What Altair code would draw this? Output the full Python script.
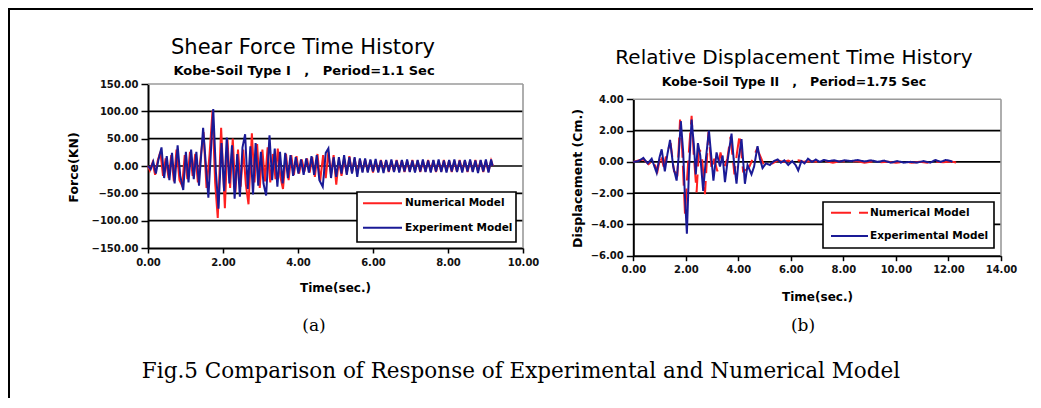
import altair as alt
import pandas as pd

# ---------------- data ----------------
# Panel (a): Shear force time history  (time s, force kN)
a_names = ["Numerical Model", "Experiment Model"]
a_num = [(0.00,0),(0.05,-8),(0.12,6),(0.19,-16),(0.26,10),(0.33,26),(0.40,-18),(0.47,14),(0.55,-22),(0.62,20),
         (0.69,-28),(0.76,30),(0.84,-26),(0.91,-36),(0.98,20),(1.05,-24),(1.12,26),(1.19,-18),(1.26,22),(1.33,-30),
         (1.41,20),(1.48,62),(1.56,-40),(1.64,20),(1.72,101),(1.79,-30),(1.86,-95),(1.95,70),(2.05,-77),(2.12,48),
         (2.19,-40),(2.26,50),(2.33,-48),(2.40,30),(2.47,-38),(2.54,30),(2.61,-34),(2.68,-70),(2.77,60),(2.84,-30),
         (2.91,40),(2.98,-40),(3.05,30),(3.12,-28),(3.19,34),(3.26,-30),(3.33,22),(3.40,-24),(3.46,32),(3.53,-20),
         (3.60,-42),(3.68,22),(3.75,-26),(3.82,20),(3.89,-16),(3.96,18),(4.03,-14),(4.10,12),(4.17,-10),(4.24,14),
         (4.31,-12),(4.38,16),(4.45,-20),(4.52,22),(4.59,-28),(4.67,20),(4.74,-22),(4.81,26),(4.88,-16),(4.95,20),
         (5.02,-34),(5.09,12),(5.16,-18),(5.23,14),(5.30,-14),(5.37,18),(5.44,-12),(5.51,14),(5.58,-14),(5.65,12),
         (5.72,-10),(5.79,12),(5.86,-10),(5.93,10),(6.00,-12),(6.07,9),(6.14,-10),(6.21,11),(6.28,-9),(6.35,10),
         (6.42,-11),(6.49,9),(6.56,-10),(6.63,11),(6.70,-9),(6.77,10),(6.84,-11),(6.91,9),(6.98,-10),(7.05,11),
         (7.12,-9),(7.19,10),(7.26,-11),(7.33,9),(7.40,-10),(7.47,11),(7.54,-9),(7.61,10),(7.68,-11),(7.75,9),
         (7.82,-10),(7.89,11),(7.96,-9),(8.03,10),(8.10,-11),(8.17,9),(8.24,-10),(8.31,11),(8.38,-9),(8.45,10),
         (8.52,-11),(8.59,9),(8.66,-10),(8.73,11),(8.80,-9),(8.87,10),(8.94,-11),(9.01,9),(9.08,-10),(9.15,10),(9.20,0)]
a_exp = [(0.00,0),(0.07,-6),(0.14,8),(0.21,-14),(0.28,12),(0.36,34),(0.43,-22),(0.50,18),(0.57,-26),(0.64,24),
         (0.71,-32),(0.79,38),(0.86,-18),(0.94,-44),(1.01,26),(1.08,-30),(1.15,30),(1.22,-24),(1.29,26),(1.36,-36),
         (1.47,70),(1.54,5),(1.61,-58),(1.74,104),(1.81,-10),(1.88,-78),(1.96,42),(2.03,-46),(2.10,52),(2.17,-32),
         (2.24,38),(2.31,-60),(2.38,22),(2.45,-56),(2.52,34),(2.59,58),(2.66,-42),(2.73,36),(2.80,-52),(2.87,42),
         (2.94,-36),(3.01,26),(3.08,-32),(3.15,-54),(3.24,56),(3.31,-26),(3.38,32),(3.45,-38),(3.52,26),(3.59,-32),
         (3.66,24),(3.73,-22),(3.80,20),(3.87,-18),(3.94,16),(4.01,-14),(4.08,12),(4.15,-16),(4.22,14),(4.29,-12),
         (4.36,18),(4.43,-16),(4.50,20),(4.57,-26),(4.66,-38),(4.74,24),(4.81,32),(4.88,-22),(4.95,16),(5.02,-20),
         (5.09,16),(5.16,-14),(5.23,20),(5.30,-16),(5.37,16),(5.44,-14),(5.51,16),(5.58,-20),(5.65,14),(5.72,-12),
         (5.79,14),(5.86,-12),(5.93,12),(6.00,-10),(6.07,13),(6.14,-12),(6.21,10),(6.28,-13),(6.35,11),(6.42,-10),
         (6.49,12),(6.56,-11),(6.63,10),(6.70,-12),(6.77,11),(6.84,-10),(6.91,12),(6.98,-11),(7.05,10),(7.12,-12),
         (7.19,11),(7.26,-10),(7.33,12),(7.40,-11),(7.47,10),(7.54,-12),(7.61,11),(7.68,-10),(7.75,12),(7.82,-11),
         (7.89,10),(7.96,-12),(8.03,11),(8.10,-10),(8.17,12),(8.24,-11),(8.31,10),(8.38,-12),(8.45,11),(8.52,-10),
         (8.59,12),(8.66,-11),(8.73,10),(8.80,-13),(8.87,11),(8.94,-10),(9.01,12),(9.08,-12),(9.15,12),(9.19,0)]
a_x_ticks = [0, 2, 4, 6, 8, 10]
a_y_ticks = [-150, -100, -50, 0, 50, 100, 150]

# Panel (b): Relative displacement time history  (time s, displacement cm)
b_names = ["Numerical Model", "Experimental Model"]
b_num = [(0.00,0),(0.22,0.1),(0.40,0.15),(0.58,-0.15),(0.75,0.1),(0.92,-0.6),(1.05,0.5),(1.15,-0.3),(1.28,0.6),
         (1.42,1.2),(1.55,-0.6),(1.68,-0.8),(1.78,2.7),(1.86,0.8),(1.97,-3.4),(2.05,-1.0),(2.14,1.2),(2.22,2.95),
         (2.30,0.5),(2.41,-1.96),(2.50,0.8),(2.60,0.6),(2.73,-2.06),(2.86,1.9),(2.98,-0.5),(3.08,0.2),(3.20,-0.6),
         (3.32,0.6),(3.45,-0.4),(3.58,0.2),(3.70,1.6),(3.85,-0.8),(3.95,0.6),(4.05,1.75),(4.18,-0.6),(4.30,-0.5),
         (4.42,-0.3),(4.55,0.2),(4.70,0.8),(4.80,0.5),(4.95,-0.1),(5.10,0.0),(5.30,-0.1),(5.50,0.1),(5.70,0.0),
         (5.90,0.08),(6.10,-0.05),(6.30,0.1),(6.50,0.0),(6.75,0.05),(7.00,0.0),(7.30,0.05),(7.60,-0.05),(7.90,0.05),
         (8.20,0.0),(8.50,0.05),(8.80,-0.05),(9.10,0.02),(9.40,-0.02),(9.70,0.0),(10.00,-0.05),(10.30,0.0),
         (10.60,-0.05),(10.90,0.0),(11.20,-0.05),(11.50,0.02),(11.80,-0.03),(12.10,0.02),(12.33,-0.05)]
b_exp = [(0.00,0),(0.20,0.05),(0.38,0.25),(0.55,-0.1),(0.70,0.2),(0.89,-0.7),(1.00,0.3),(1.08,0.8),(1.20,-0.6),
         (1.30,0.5),(1.40,1.4),(1.52,-0.3),(1.65,-1.2),(1.72,0.2),(1.81,2.6),(1.90,0.6),(1.96,-2.0),(2.04,-4.6),
         (2.12,-0.5),(2.22,2.7),(2.30,1.2),(2.38,-0.8),(2.46,1.2),(2.55,0.4),(2.66,-1.85),(2.77,0.3),(2.88,2.0),
         (2.96,0.5),(3.05,-1.2),(3.17,0.6),(3.30,-0.3),(3.40,0.4),(3.49,-1.3),(3.60,0.2),(3.74,1.8),(3.82,0.2),
         (3.93,-1.4),(4.02,0.3),(4.12,1.45),(4.25,-1.4),(4.35,-0.2),(4.50,-0.8),(4.60,-0.3),(4.73,1.0),(4.82,0.2),
         (4.92,-0.4),(5.05,-0.1),(5.20,-0.2),(5.35,0.05),(5.50,0.15),(5.62,-0.05),(5.75,0.1),(5.90,-0.2),(6.05,0.05),
         (6.18,-0.2),(6.28,-0.55),(6.40,0.05),(6.52,-0.1),(6.65,0.2),(6.80,0.0),(6.95,0.15),(7.10,0.0),(7.25,0.12),
         (7.45,0.05),(7.65,0.1),(7.85,0.02),(8.05,0.1),(8.30,0.05),(8.55,0.12),(8.80,0.02),(9.05,0.1),(9.30,0.0),
         (9.55,0.08),(9.80,-0.05),(10.05,0.05),(10.30,-0.05),(10.55,0.0),(10.80,-0.05),(11.05,0.05),(11.30,-0.05),
         (11.50,0.12),(11.70,0.0),(11.90,0.12),(12.10,0.05),(12.15,0.0)]
b_x_ticks = [0, 2, 4, 6, 8, 10, 12, 14]
b_y_ticks = [-6, -4, -2, 0, 2, 4]

# ---------------- layout / style ----------------
W, H = 1025, 390
RED, NAVY = "#ff2020", "#1a1a96"
SANS = "DejaVu Sans"
SERIF = "DejaVu Serif"
NB = "\u00a0"


def series_df(pairs, name):
    return pd.DataFrame({"t": [p[0] for p in pairs], "v": [p[1] for p in pairs], "s": name})


def panel(num, exp, names, xticks, yticks, xrange, yrange, xtitle, ytitle,
          xt_pos, yt_pos, dashed):
    xs = alt.Scale(domain=[xticks[0], xticks[-1]], range=xrange, nice=False, zero=False)
    ys = alt.Scale(domain=[yticks[0], yticks[-1]], range=yrange, nice=False, zero=False)
    common = dict(format=".2f", labelFont=SANS, labelFontWeight="bold", labelFontSize=10,
                  labelColor="#111", labelFlush=False, labelOverlap=False, grid=False,
                  domainColor="black", domainWidth=2, tickColor="black", tickWidth=1.5,
                  titleFont=SANS, titleFontWeight="bold", titleColor="black",
                  titleBaseline="middle", titleAlign="center")
    xaxis = alt.Axis(orient="bottom", offset=yrange[0] - H, values=xticks, tickSize=5,
                     labelPadding=4, title=xtitle, titleFontSize=12,
                     titleX=xt_pos[0], titleY=xt_pos[1], **common)
    yaxis = alt.Axis(orient="left", offset=-xrange[0], values=yticks, tickSize=7,
                     labelPadding=3, title=ytitle, titleFontSize=12.5, titleAngle=270,
                     titleX=yt_pos[0], titleY=yt_pos[1], **common)

    def X(f):
        return alt.X(f, type="quantitative", scale=xs, axis=xaxis)

    def Y(f):
        return alt.Y(f, type="quantitative", scale=ys, axis=yaxis)

    grid_df = pd.DataFrame({"v": yticks[1:-1], "x0": xticks[0], "x1": xticks[-1]})
    grid = alt.Chart(grid_df).mark_rule(color="black", strokeWidth=1.6).encode(
        x=X("x0"), x2="x1", y=Y("v"))
    top_df = pd.DataFrame({"v": [yticks[-1]], "x0": [xticks[0]], "x1": [xticks[-1]]})
    top = alt.Chart(top_df).mark_rule(color="#9a9a9a", strokeWidth=1.6).encode(
        x=X("x0"), x2="x1", y=Y("v"))
    right_df = pd.DataFrame({"t": [xticks[-1]], "y0": [yticks[0]], "y1": [yticks[-1]]})
    right = alt.Chart(right_df).mark_rule(color="#9a9a9a", strokeWidth=1.6).encode(
        x=X("t"), y=Y("y0"), y2="y1")

    color = alt.Color("s:N", scale=alt.Scale(domain=names, range=[RED, NAVY]), legend=None)
    enc = dict(x=X("t"), y=Y("v"), color=color)
    if dashed:
        enc["strokeDash"] = alt.StrokeDash("s:N", scale=alt.Scale(domain=names, range=[[20, 8], [1, 0]]),
                                           legend=None)
    red = alt.Chart(series_df(num, names[0])).mark_line(strokeWidth=2).encode(**enc)
    blue = alt.Chart(series_df(exp, names[1])).mark_line(strokeWidth=2).encode(**enc)
    return alt.layer(grid, top, right, red, blue)


left = panel(a_num, a_exp, a_names, a_x_ticks, a_y_ticks, [140, 515], [240, 76],
             "Time(sec.)", "Force(KN)", (327, 39.5), (-75, 159), False)
right = panel(b_num, b_exp, b_names, b_x_ticks, b_y_ticks, [625.3, 993], [247.7, 91.3],
              "Time(sec.)", "Displacement (Cm.)", (809, 40.8), (-56.3, 170), True)

one = pd.DataFrame({"k": [0]})


def txt(s, x, y, size, weight="normal", font=SANS, align="center", baseline="alphabetic"):
    return alt.Chart(pd.DataFrame({"label": [s]})).mark_text(
        font=font, fontSize=size, fontWeight=weight, align=align, baseline=baseline, color="black"
    ).encode(x=alt.value(x), y=alt.value(y), text="label:N")


def hline(x1, x2, y, color="black", width=2, dash=None):
    kw = dict(color=color, strokeWidth=width)
    if dash:
        kw["strokeDash"] = dash
    return alt.Chart(one).mark_rule(**kw).encode(x=alt.value(x1), x2=alt.value(x2), y=alt.value(y))


def box(x1, x2, y1, y2):
    return alt.Chart(one).mark_rect(fill="white", stroke="black", strokeWidth=1.6).encode(
        x=alt.value(x1), x2=alt.value(x2), y=alt.value(y1), y2=alt.value(y2))


sub_a = "Kobe-Soil Type I" + NB * 3 + "," + NB * 3 + "Period=1.1 Sec"
sub_b = "Kobe-Soil Type II" + NB * 3 + "," + NB * 3 + "Period=1.75 Sec"

decor = [
    # figure frame
    hline(0, W, 1, width=2),
    alt.Chart(one).mark_rule(color="black", strokeWidth=2).encode(
        x=alt.value(1), y=alt.value(0), y2=alt.value(H)),
    # titles
    txt("Shear Force Time History", 295, 46, 21),
    txt(sub_a, 296, 67, 13, "bold"),
    txt("Relative Displacement Time History", 786, 56, 20),
    txt(sub_b, 786, 78, 12.5, "bold"),
    # legend (a)
    box(349, 508, 184, 234),
    hline(355, 394, 195.3, RED, 2),
    hline(355, 394, 219.7, NAVY, 2),
    txt(a_names[0], 397, 195.3, 10.5, "bold", align="left", baseline="middle"),
    txt(a_names[1], 397, 219.7, 10.5, "bold", align="left", baseline="middle"),
    # legend (b)
    box(815, 986, 194, 240),
    hline(823, 860, 204.7, RED, 2, [20, 8]),
    hline(823, 860, 228, NAVY, 2),
    txt(b_names[0], 862, 204.7, 10.5, "bold", align="left", baseline="middle"),
    txt(b_names[1], 862, 228, 10.5, "bold", align="left", baseline="middle"),
    # sub-figure labels and caption
    txt("(a)", 306, 323, 17, font=SERIF),
    txt("(b)", 795, 323, 17, font=SERIF),
    txt("Fig.5 Comparison of Response of Experimental and Numerical Model", 513, 370, 21.5, font=SERIF),
]

chart = alt.layer(left, right, *decor).resolve_scale(
    x="independent", y="independent", color="independent", strokeDash="independent"
).properties(
    width=W, height=H, padding=0, autosize=alt.AutoSizeParams(type="none")
).configure_view(stroke=None)

chart.save("out.html", embed_options={"renderer": "svg", "actions": False})
